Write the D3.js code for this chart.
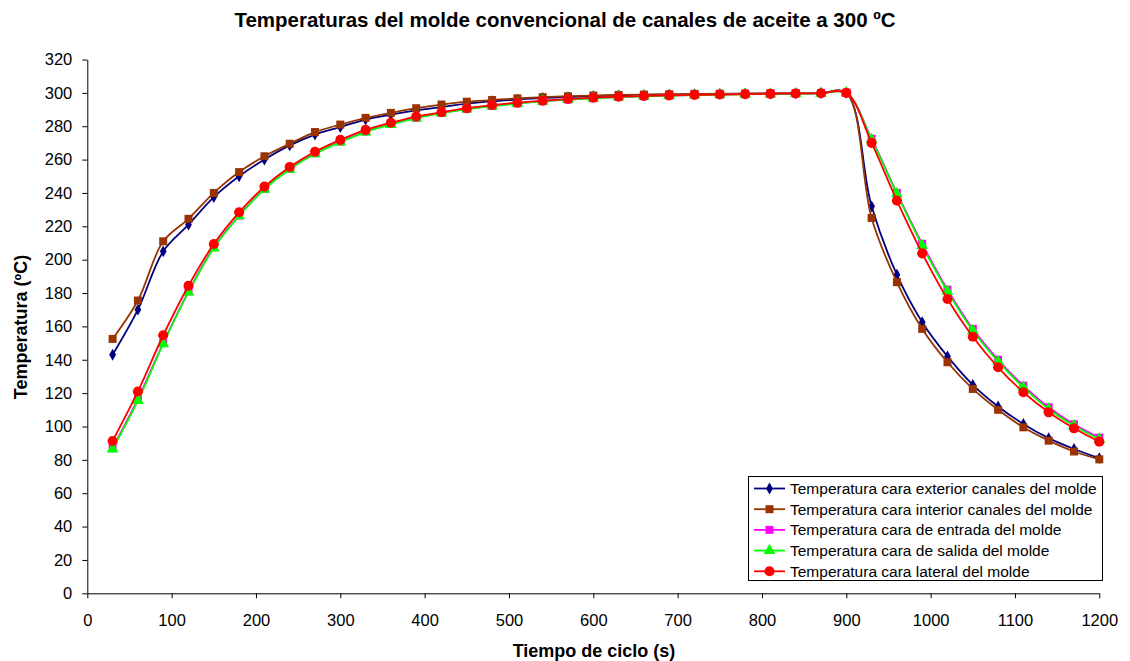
<!DOCTYPE html>
<html><head><meta charset="utf-8">
<script src="https://cdn.jsdelivr.net/npm/d3@7"></script>
<style>body{margin:0;background:#fff;} text{font-family:"Liberation Sans",Arial,sans-serif;}</style>
</head><body><svg id="c" width="1130" height="661"></svg>
<script>
const times = [30,60,90,120,150,180,210,240,270,300,330,360,390,420,450,480,510,540,570,600,630,660,690,720,750,780,810,840,870,900,930,960,990,1020,1050,1080,1110,1140,1170,1200];
const exterior = [143,170,205,221,237.5,250,260,268.5,275,279.5,284,287,289.5,291.5,293.5,295,296,297,297.5,298,298.5,298.8,299,299.2,299.4,299.5,299.6,299.7,299.8,300,232,191,162.5,142,125,112,101.5,93,86.5,81];
const interior = [152.5,175.5,211,224.5,240,252.5,262,269.5,276.5,281,285,288,290.8,293,294.7,295.7,296.7,297.4,298,298.4,298.8,299,299.2,299.4,299.5,299.6,299.7,299.8,299.9,300,225,186.5,158.5,138.5,122.5,110,99.5,91.5,85,80.3];
const entrada = [87,116.5,150,181,207.5,226.5,242.5,254.5,263.8,270.8,276.8,281.3,285,288,290.3,292.2,293.7,295,296,296.8,297.5,298,298.4,298.7,299,299.2,299.4,299.6,299.8,300,272.5,240,209.5,182,158.5,140,124.5,111.5,101.3,93.3];
const salida = [86.5,115.5,149.5,180.5,207,226.2,242.2,254.2,263.5,270.5,276.5,281,284.8,287.8,290.2,292,293.6,294.9,295.9,296.7,297.4,297.9,298.3,298.6,298.9,299.1,299.3,299.5,299.7,300,272,239.5,208.5,181,157.5,139,123.5,110.5,100.5,92.5];
const lateral = [91.3,121,154.7,184.4,209.4,228.4,243.8,255.6,264.7,271.8,277.8,282.1,285.8,288.4,290.8,292.7,294.1,295.3,296.3,297.1,297.7,298.1,298.5,298.8,299,299.2,299.4,299.6,299.8,300,270,235.4,203.8,176.4,153.8,135.5,120.5,108.5,98.9,90.9];
const seriesNames = ["Temperatura cara exterior canales del molde","Temperatura cara interior canales del molde","Temperatura cara de entrada del molde","Temperatura cara de salida del molde","Temperatura cara lateral del molde"];
const xTicks = [0,100,200,300,400,500,600,700,800,900,1000,1100,1200];
const yTicks = d3.range(0,321,20);

const colors = ["#000080","#993300","#FF00FF","#00FF00","#FF0000"];
const symbols = [d3.symbolDiamond, d3.symbolSquare, d3.symbolSquare, d3.symbolTriangle, d3.symbolCircle];
const symSizes = [40, 64, 64, 60, 80];
const data = [exterior, interior, entrada, salida, lateral];

const svg = d3.select("#c");
const x = d3.scaleLinear().domain([0,1200]).range([87.3,1099.3]);
const y = d3.scaleLinear().domain([0,320]).range([593.3,59.5]);

svg.append("text").attr("x",565).attr("y",27).attr("text-anchor","middle")
  .style("font-size","20.5px").style("font-weight","bold")
  .text("Temperaturas del molde convencional de canales de aceite a 300 ºC");

const xa = svg.append("g").attr("transform","translate(0,593.3)")
  .call(d3.axisBottom(x).tickValues(xTicks).tickFormat(d3.format("d")).tickSize(5).tickPadding(16).tickSizeOuter(0));
const ya = svg.append("g").attr("transform","translate(87.3,0)")
  .call(d3.axisLeft(y).tickValues(yTicks).tickFormat(d3.format("d")).tickSize(5).tickPadding(10).tickSizeOuter(0));
[xa,ya].forEach(a=>{
  a.selectAll("text").style("font-size","16.5px").attr("fill","#000").style("font-family","'Liberation Sans',Arial,sans-serif");
  a.selectAll("line,path").attr("stroke","#000");
});

svg.append("text").attr("x",594).attr("y",657).attr("text-anchor","middle")
  .style("font-size","18px").style("font-weight","bold").text("Tiempo de ciclo (s)");
svg.append("text").attr("transform","translate(27,327) rotate(-90)").attr("text-anchor","middle")
  .style("font-size","18px").style("font-weight","bold").text("Temperatura (ºC)");

const line = d3.line().x((d,i)=>x(times[i])).y(d=>y(d)).curve(d3.curveCatmullRom.alpha(0.5));
data.forEach((s,k)=>{
  const g = svg.append("g");
  g.append("path").datum(s).attr("d",line).attr("fill","none").attr("stroke",colors[k]).attr("stroke-width",1.8);
  g.selectAll("path.m").data(s).enter().append("path").attr("class","m")
    .attr("transform",(d,i)=>`translate(${x(times[i])},${y(d)})`)
    .attr("d",d3.symbol().type(symbols[k]).size(symSizes[k])).attr("fill",colors[k]);
});

// legend
const lg = svg.append("g");
lg.append("rect").attr("x",748.5).attr("y",476.5).attr("width",354).attr("height",104)
  .attr("fill","#fff").attr("stroke","#000").attr("stroke-width",1);
seriesNames.forEach((n,k)=>{
  const yy = 488.5 + k*20.7;
  lg.append("line").attr("x1",754).attr("x2",785).attr("y1",yy).attr("y2",yy).attr("stroke",colors[k]).attr("stroke-width",1.8);
  lg.append("path").attr("transform",`translate(769.5,${yy})`).attr("d",d3.symbol().type(symbols[k]).size(symSizes[k])).attr("fill",colors[k]);
  lg.append("text").attr("x",790).attr("y",yy+5.5).style("font-size","15.5px").text(n);
});
</script></body></html>
